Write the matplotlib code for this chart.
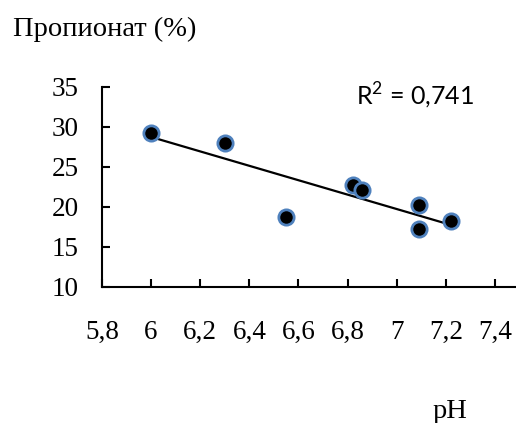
import matplotlib.pyplot as plt
import numpy as np

# pH vs propionate share
ph = [6.00, 6.30, 6.55, 6.82, 6.86, 7.09, 7.09, 7.22]
propionate = [29.3, 28.0, 18.8, 22.7, 22.1, 20.2, 17.3, 18.2]

xticks = [5.8, 6.0, 6.2, 6.4, 6.6, 6.8, 7.0, 7.2, 7.4]
xticklabels = ["5,8", "6", "6,2", "6,4", "6,6", "6,8", "7", "7,2", "7,4"]
yticks = [10, 15, 20, 25, 30, 35]
r2_text = r"$\mathrm{R}^{2}$ = 0,741"

serif = "Liberation Serif"
plt.rcParams["mathtext.fontset"] = "custom"
plt.rcParams["mathtext.rm"] = "Lato"

fig = plt.figure(figsize=(5.16, 4.23), dpi=100)
ax = fig.add_axes([102 / 516, 1 - 287 / 423, 1 - 102 / 516, 200 / 423])

# linear trend line over the data range
slope, icpt = np.polyfit(ph, propionate, 1)
xfit = np.array([min(ph), max(ph)])
ax.plot(xfit, slope * xfit + icpt, color="black", lw=1.6, zorder=2)

ax.plot(ph, propionate, "o", ms=11, mfc="black", mec="#4F81BD", mew=2,
        zorder=3, clip_on=False)

ax.set_xlim(5.8, 5.8 + 414 / 245.6)
ax.set_ylim(10, 35)
ax.set_xticks(xticks)
ax.set_xticklabels(xticklabels)
ax.set_yticks(yticks)

for s in ["top", "right"]:
    ax.spines[s].set_visible(False)
for s in ["left", "bottom"]:
    ax.spines[s].set_linewidth(1.5)

ax.tick_params(axis="both", direction="in", length=6, width=1.5,
               labelsize=19.5)
ax.tick_params(axis="x", pad=24)
ax.tick_params(axis="y", pad=17)
for lab in ax.get_xticklabels() + ax.get_yticklabels():
    lab.set_fontfamily(serif)

ax.text(356 / 516, 1 - 105 / 423, r2_text, transform=fig.transFigure,
        fontsize=18, family="Lato", ha="left", va="baseline")

fig.text(13 / 516, 1 - 36 / 423, "Пропионат (%)", fontsize=20.5,
         family=serif, ha="left", va="baseline")
fig.text(450 / 516, 1 - 418 / 423, "pH", fontsize=20.5, family=serif,
         ha="center", va="baseline")

fig.savefig("out.png", dpi=100)
